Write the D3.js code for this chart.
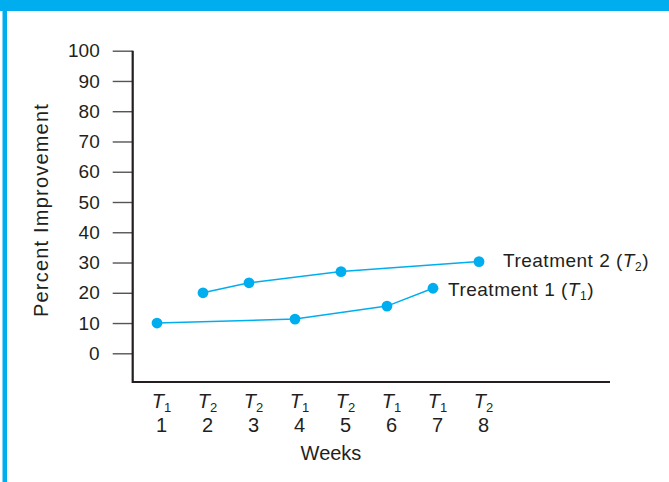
<!DOCTYPE html>
<html>
<head>
<meta charset="utf-8">
<script src="https://cdn.jsdelivr.net/npm/d3@7"></script>
<style>
  html, body { margin: 0; padding: 0; background: #fff; }
  svg { display: block; }
  text { font-family: "Liberation Sans", Arial, Helvetica, sans-serif; fill: #231f20; }
</style>
</head>
<body>
<svg id="chart" width="669" height="482"></svg>
<script>
// ---- data ----
const weeks = [1, 2, 3, 4, 5, 6, 7, 8];
const weekTreatment = ["1", "2", "2", "1", "2", "1", "1", "2"];
const t1Weeks = [1, 4, 6, 7];
const t1Values = [10, 11.3, 15.6, 21.5];
const t2Weeks = [2, 3, 5, 8];
const t2Values = [20, 23.3, 27, 30.3];
const yTicks = [0, 10, 20, 30, 40, 50, 60, 70, 80, 90, 100];
const seriesLabels = ["Treatment 1", "Treatment 2"];
const seriesSubs = ["1", "2"];

// ---- layout ----
const svg = d3.select("#chart");
const blue = "#00aeef";
const ink = "#231f20";
const FS = 19;

// frame
svg.append("rect").attr("x", 0).attr("y", 0).attr("width", 669).attr("height", 11).attr("fill", blue);
svg.append("rect").attr("x", 2.5).attr("y", 0).attr("width", 4.5).attr("height", 482).attr("fill", blue);

const y = d3.scaleLinear().domain([0, 100]).range([353.3, 50.7]);
const x = d3.scaleLinear().domain([1, 8]).range([157, 479]);
const axisX = 132.7, baseY = 382, rightX = 610;

// y axis
const yAxis = svg.append("g")
  .attr("transform", `translate(${axisX},0)`)
  .call(d3.axisLeft(y).tickValues(yTicks).tickSize(20).tickPadding(13).tickFormat(d3.format("d")));
yAxis.select(".domain").remove();
yAxis.selectAll(".tick line").attr("stroke", "#555").attr("stroke-width", 1.4);
yAxis.selectAll(".tick text").attr("font-size", FS).attr("fill", ink);

// axis frame lines
svg.append("path")
  .attr("d", `M${axisX},${y(100)}V${baseY}H${rightX}`)
  .attr("fill", "none").attr("stroke", ink).attr("stroke-width", 2.2);

// x axis labels
const xAxis = svg.append("g")
  .attr("transform", `translate(4,${baseY})`)
  .call(d3.axisBottom(x).tickValues(weeks).tickSize(0).tickFormat(""));
xAxis.select(".domain").remove();
xAxis.selectAll(".tick text").remove();
xAxis.selectAll(".tick").each(function(d, i) {
  const g = d3.select(this);
  const t = g.append("text").attr("y", 26).attr("text-anchor", "middle").attr("font-size", 20);
  t.append("tspan").attr("font-style", "italic").text("T");
  t.append("tspan").attr("font-size", 13).attr("dy", 3.5).text(weekTreatment[i]);
  g.append("text").attr("y", 49.5).attr("text-anchor", "middle").attr("font-size", 20).text(d);
});

// axis titles
svg.append("text")
  .attr("x", 331).attr("y", 460)
  .attr("text-anchor", "middle").attr("font-size", 20)
  .text("Weeks");
svg.append("text")
  .attr("transform", "translate(48,210) rotate(-90)")
  .attr("text-anchor", "middle").attr("font-size", 20).attr("letter-spacing", 1.2)
  .text("Percent Improvement");

// series
const series = [
  { weeks: t1Weeks, values: t1Values },
  { weeks: t2Weeks, values: t2Values }
];
const line = d3.line().x(d => x(d[0])).y(d => y(d[1]));
series.forEach(s => {
  const pts = s.weeks.map((w, i) => [w, s.values[i]]);
  svg.append("path").attr("d", line(pts)).attr("fill", "none")
    .attr("stroke", blue).attr("stroke-width", 1.5);
  svg.selectAll(null).data(pts).enter().append("circle")
    .attr("cx", d => x(d[0])).attr("cy", d => y(d[1])).attr("r", 5.4)
    .attr("fill", blue);
});

// series labels
const labelPos = [
  { x: 448, y: 296 },
  { x: 503, y: 267 }
];
seriesLabels.forEach((lab, i) => {
  const t = svg.append("text").attr("x", labelPos[i].x).attr("y", labelPos[i].y)
    .attr("font-size", FS).attr("letter-spacing", 0.5);
  t.append("tspan").text(lab + " (");
  t.append("tspan").attr("font-style", "italic").text("T");
  t.append("tspan").attr("font-size", 12).attr("dy", 3.5).text(seriesSubs[i]);
  t.append("tspan").attr("dy", -3.5).text(")");
});
</script>
</body>
</html>
